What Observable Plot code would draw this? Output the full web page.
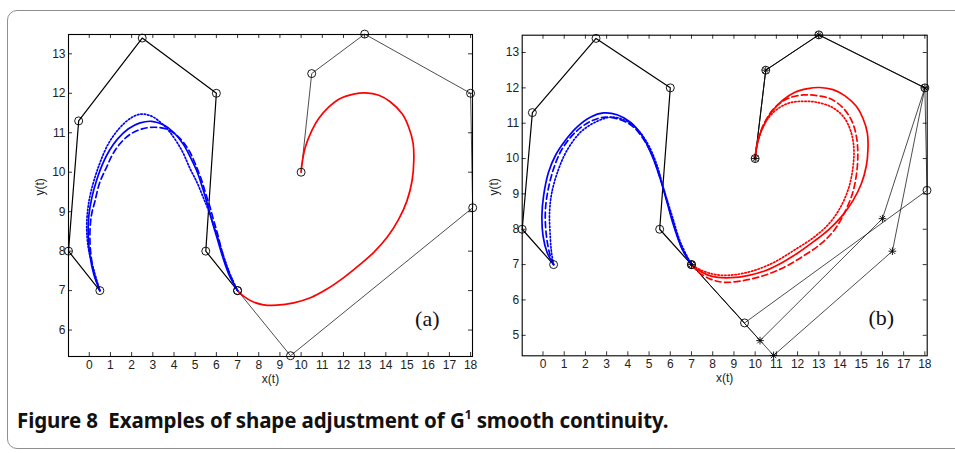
<!DOCTYPE html>
<html><head><meta charset="utf-8">
<script src="https://cdn.jsdelivr.net/npm/d3@7"></script>
<script src="https://cdn.jsdelivr.net/npm/@observablehq/plot@0.6"></script>
<style>
html,body{margin:0;padding:0;background:#fff;}
#wrap{position:relative;width:955px;height:453px;overflow:hidden;}
#box{position:absolute;left:7px;top:10px;width:990px;height:439px;border:1.5px solid #8f8f8f;border-radius:10px;box-sizing:border-box;}
#pa{position:absolute;left:0;top:0;}
#pb{position:absolute;left:475px;top:0;}
#cap{position:absolute;left:17px;top:406px;font-family:"Noto Sans",sans-serif;font-weight:700;font-size:20.5px;white-space:nowrap;color:#111;letter-spacing:-0.1px;}
#cap sup{font-size:12px;vertical-align:9px;line-height:0;}
</style></head>
<body><div id="wrap"><div id="box"></div><div id="pa"></div><div id="pb"></div>
<div id="cap">Figure 8&nbsp; Examples of shape adjustment of G<sup>1</sup> smooth continuity.</div></div>
<script>
// ---- tick labels ----
const xTicks = [0,1,2,3,4,5,6,7,8,9,10,11,12,13,14,15,16,17,18];
const yTicksA = [6,7,8,9,10,11,12,13];
const yTicksB = [5,6,7,8,9,10,11,12,13];

// ---- control polygons ----
const blueCtrl = [[0.5,7],[-0.98,8],[-0.5,11.3],[2.5,13.4],[6,12],[5.5,8],[7,7]];
const redCtrl1 = [[7,7],[9.5,5.35],[18.1,9.1],[18,12],[13,13.5],[10.5,12.5],[10,10]];
const redCtrl2 = [[7,7],[10.23,4.85],[16,8.3],[18,12],[13,13.5],[10.5,12.5],[10,10]];
const redCtrl3 = [[7,7],[10.87,4.43],[16.47,7.38],[18,12],[13,13.5],[10.5,12.5],[10,10]];

// ---- curves, panel (a) ----
const blueSolidA = [[0.5,7],[0.22,7.4],[0.03,7.9],[-0.05,8.4],[-0.02,8.9],[0.12,9.35],[0.35,9.8],[0.62,10.2],[0.95,10.55],[1.35,10.85],[1.85,11.1],[2.4,11.25],[2.95,11.29],[3.5,11.2],[4.0,11.0],[4.45,10.7],[4.8,10.35],[5.1,10.0],[5.35,9.6],[5.6,9.15],[5.8,8.75],[6.05,8.3],[6.3,7.85],[6.6,7.4],[7,7]];
const blueDashedA = [[0.5,7],[0.25,7.4],[0.08,7.9],[0.03,8.43],[0.1,8.9],[0.27,9.27],[0.5,9.75],[0.82,10.13],[1.1,10.45],[1.45,10.72],[1.9,10.95],[2.5,11.1],[3.1,11.14],[3.6,11.1],[4.1,10.95],[4.45,10.75],[4.76,10.5],[5.05,10.15],[5.3,9.8],[5.5,9.45],[5.71,9.1],[5.86,8.8],[6.05,8.45],[6.26,8.0],[6.6,7.45],[7,7]];
const blueDottedA = [[0.5,7],[0.2,7.55],[-0.05,8.1],[-0.12,8.6],[-0.06,9.1],[0.1,9.55],[0.43,10.13],[0.9,10.72],[1.4,11.1],[1.9,11.35],[2.4,11.47],[2.9,11.43],[3.35,11.27],[3.8,11.02],[4.37,10.55],[4.75,10.1],[5.08,9.75],[5.35,9.4],[5.63,9.03],[5.9,8.6],[6.15,8.2],[6.45,7.7],[6.7,7.35],[7,7]];
const redSolid = [[10,10],[10.03,10.17],[10.2,10.64],[10.51,11.06],[10.83,11.36],[11.3,11.65],[11.85,11.87],[12.48,11.98],[13.04,12.01],[13.67,11.95],[14.22,11.78],[14.77,11.48],[15.08,11.14],[15.29,10.72],[15.32,10.3],[15.24,9.79],[15.0,9.28],[14.61,8.81],[14.06,8.35],[13.43,7.97],[12.8,7.67],[12.01,7.33],[11.22,7.04],[10.44,6.82],[9.65,6.69],[8.86,6.63],[8.23,6.64],[7.75,6.71],[7.28,6.86],[7,7]];

// ---- curves, panel (b) ----
const blueSolidB = [[0.5,7],[0.19,7.35],[0.0,7.82],[-0.05,8.39],[0.03,8.95],[0.26,9.61],[0.58,10.08],[1.05,10.51],[1.6,10.89],[2.23,11.17],[2.86,11.29],[3.49,11.24],[4.12,11.03],[4.67,10.65],[5.14,10.08],[5.53,9.42],[5.85,8.76],[6.16,8.1],[6.56,7.44],[7,7]];
const blueDashedB = [[0.5,7],[0.34,7.25],[0.16,7.82],[0.11,8.48],[0.22,9.05],[0.5,9.71],[0.9,10.27],[1.52,10.74],[2.23,11.05],[2.94,11.17],[3.65,11.1],[4.27,10.89],[4.83,10.46],[5.22,9.99],[5.55,9.4],[5.87,8.75],[6.18,8.1],[6.57,7.44],[7,7]];
const blueDottedB = [[0.5,7],[0.4,7.35],[0.34,7.82],[0.31,8.48],[0.42,9.05],[0.74,9.71],[1.13,10.23],[1.76,10.74],[2.47,11.03],[3.17,11.17],[3.8,11.1],[4.43,10.84],[4.98,10.37],[5.38,9.8],[5.69,9.14],[6.08,8.39],[6.48,7.63],[7,7]];
const redDashedB = [[10,10],[10.09,10.42],[10.41,10.98],[10.88,11.41],[11.51,11.69],[12.29,11.8],[12.92,11.78],[13.55,11.69],[14.18,11.41],[14.58,11.03],[14.78,10.6],[14.84,10.13],[14.78,9.57],[14.58,9.0],[14.18,8.43],[13.71,7.96],[13.08,7.58],[12.29,7.25],[11.35,6.92],[10.41,6.69],[9.46,6.55],[8.52,6.5],[7.89,6.59],[7.34,6.78],[7,7]];
const redDottedB = [[10,10],[10.12,10.46],[10.49,11.03],[10.96,11.36],[11.59,11.57],[12.29,11.62],[12.92,11.59],[13.63,11.45],[14.18,11.17],[14.5,10.79],[14.65,10.32],[14.62,9.8],[14.42,9.19],[14.02,8.62],[13.47,8.15],[12.76,7.77],[11.82,7.4],[10.88,7.06],[9.93,6.83],[8.99,6.71],[8.21,6.71],[7.5,6.83],[7,7]];

// star markers (panel b, moved control points)
const starPts = [[7,7],[10.23,4.85],[16,8.3],[18,12],[13,13.5],[10.5,12.5],[10,10],[10.87,4.43],[16.47,7.38]];

const X = d => d[0], Y = d => d[1];
const BLUE = "#0000ff", RED = "#ff0000";
function curve(data, color, dash) {
  return Plot.line(data, {x: X, y: Y, stroke: color, strokeWidth: 1.7, curve: "catmull-rom",
    strokeDasharray: dash === "dash" ? "6,3.5" : dash === "dot" ? "1.4,2" : null});
}
function poly(data, w) {
  return Plot.line(data, {x: X, y: Y, stroke: "black", strokeWidth: w});
}
function circles(data) {
  return Plot.dot(data, {x: X, y: Y, r: 4, stroke: "black", fill: "none", strokeWidth: 0.9});
}

function panel(o) {
  const pw = o.width - o.mL - o.mR, ph = o.height - o.mT - o.mB;
  return Plot.plot({
    width: o.width, height: o.height,
    marginLeft: o.mL, marginRight: o.mR, marginTop: o.mT, marginBottom: o.mB,
    x: {domain: o.xDomain}, y: {domain: o.yDomain},
    style: {background: "transparent", fontFamily: "'Liberation Sans', Arial, sans-serif", fontSize: "12px", color: "black", overflow: "visible"},
    marks: [
      ...o.marks,
      Plot.tickX(xTicks, {x: d => d, insetTop: ph - 4, stroke: "black", strokeWidth: 0.8}),
      Plot.tickX(xTicks, {x: d => d, insetBottom: ph - 4, stroke: "black", strokeWidth: 0.8}),
      Plot.tickY(o.yTicks, {y: d => d, insetRight: pw - 4, stroke: "black", strokeWidth: 0.8}),
      Plot.tickY(o.yTicks, {y: d => d, insetLeft: pw - 4, stroke: "black", strokeWidth: 0.8}),
      Plot.axisX(xTicks, {tickSize: 0, tickPadding: 4, label: null, fill: "#222", fontSize: 12}),
      Plot.axisY(o.yTicks, {tickSize: 0, tickPadding: 3, label: null, fill: "#222", fontSize: 12}),
      Plot.frame({stroke: "black", strokeWidth: 1.1}),
      Plot.text(["x(t)"], {frameAnchor: "bottom", dy: 26, fill: "#222", fontSize: 12}),
      Plot.text(["y(t)"], {frameAnchor: "left", rotate: -90, dx: -28, fill: "#222", fontSize: 12}),
      Plot.text([o.tag], {frameAnchor: "bottom-right", dx: -33, dy: -31, fontFamily: "'Liberation Serif', serif", fontSize: 22, fill: "#111"})
    ]
  });
}

const plotA = panel({
  width: 480, height: 395, mL: 68, mR: 8, mT: 34, mB: 39,
  xDomain: [-0.98, 18.09], yDomain: [5.33, 13.49], yTicks: yTicksA, tag: "(a)",
  marks: [
    poly(blueCtrl, 1.2),
    poly(redCtrl1, 0.7),
    curve(redSolid, RED, null),
    curve(blueDottedA, BLUE, "dot"),
    curve(blueDashedA, BLUE, "dash"),
    curve(blueSolidA, BLUE, null),
    circles(blueCtrl),
    circles(redCtrl1)
  ]
});
document.getElementById("pa").appendChild(plotA);

const plotB = panel({
  width: 480, height: 395, mL: 46.7, mR: 28.3, mT: 34.7, mB: 39.7,
  xDomain: [-0.98, 18.11], yDomain: [4.42, 13.49], yTicks: yTicksB, tag: "(b)",
  marks: [
    poly(blueCtrl, 1.2),
    poly(redCtrl1, 0.7),
    poly(redCtrl2, 0.7),
    poly(redCtrl3, 0.7),
    curve(redDottedB, RED, "dot"),
    curve(redDashedB, RED, "dash"),
    curve(redSolid, RED, null),
    curve(blueDottedB, BLUE, "dot"),
    curve(blueDashedB, BLUE, "dash"),
    curve(blueSolidB, BLUE, null),
    circles(blueCtrl),
    circles(redCtrl1),
    Plot.dot(starPts, {x: X, y: Y, symbol: "plus", r: 2.6, stroke: "black", strokeWidth: 0.9}),
    Plot.dot(starPts, {x: X, y: Y, symbol: "times", r: 2.6, stroke: "black", strokeWidth: 0.9})
  ]
});
document.getElementById("pb").appendChild(plotB);
</script>
</body></html>
